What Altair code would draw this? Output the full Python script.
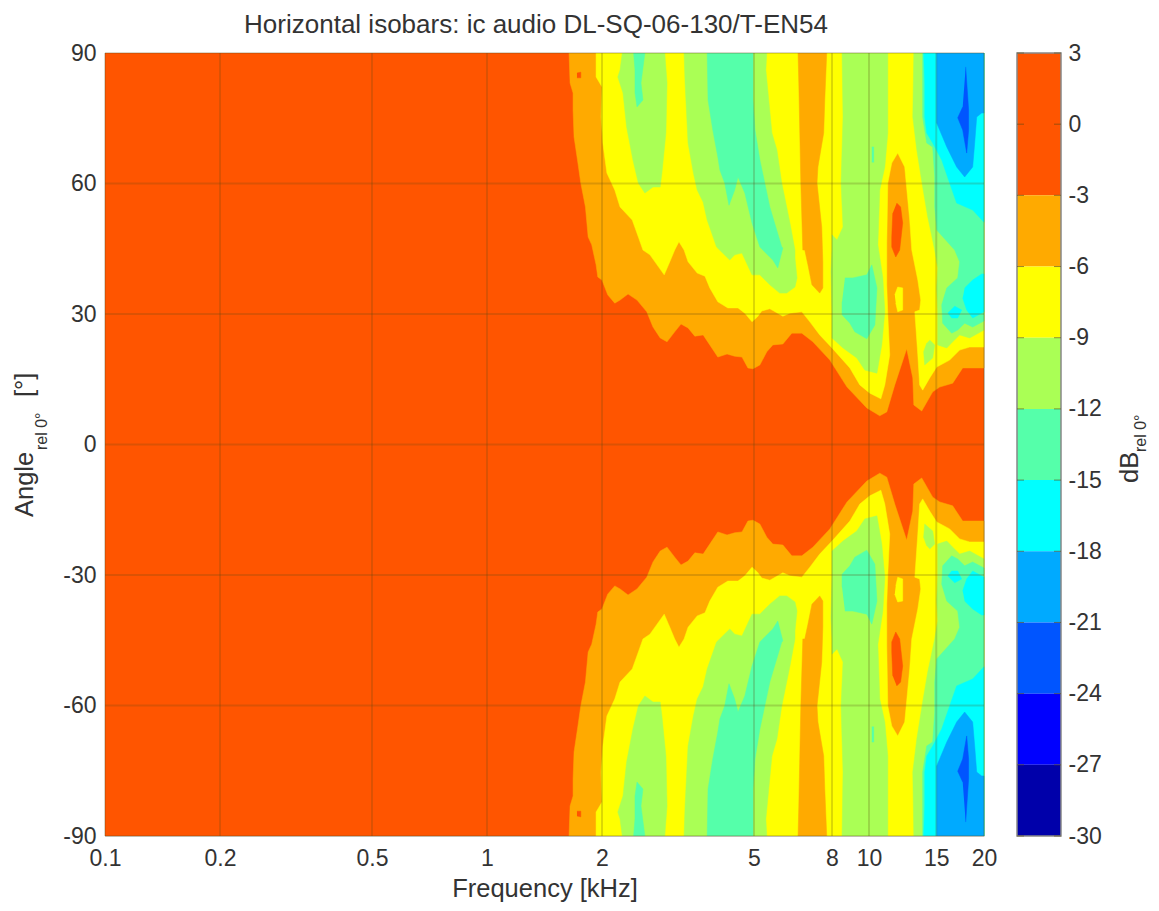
import altair as alt
import pandas as pd

TITLE = "Horizontal isobars: ic audio  DL-SQ-06-130/T-EN54"
X_TICKS = [0.1, 0.2, 0.5, 1, 2, 5, 8, 10, 15, 20]
Y_TICKS = [-90, -60, -30, 0, 30, 60, 90]
LEVELS = [3, 0, -3, -6, -9, -12, -15, -18, -21, -24, -27, -30]
BAND_TOP = [3, -3, -6, -9, -12, -15, -18, -21, -24, -27]
BAND_BOTTOM = [-3, -6, -9, -12, -15, -18, -21, -24, -27, -30]
BAND_COLORS = ["#FF5500", "#FFAA00", "#FFFF00", "#AAFF55", "#55FFAA",
               "#00FFFF", "#00AAFF", "#0055FF", "#0000FF", "#0000AA"]

# Contours of the upper half (kHz, degrees); the measured lower half mirrors them.
AT_3 = [(1.64,90),(1.65,83.1),(1.68,80.8),(1.68,76.9),(1.69,70.7),(1.73,64.7),(1.76,60.1),(1.81,54.6),(1.84,47.7),(1.88,45.9),(1.93,41.3),(1.95,38.5),(2.00,37.8),(2.07,34.4),(2.16,32.5),(2.23,33.2),(2.34,34.6),(2.47,33.2),(2.62,30.5),(2.72,27.0),(2.84,24.5),(2.96,23.6),(3.10,25.9),(3.22,27.7),(3.36,26.8),(3.50,24.9),(3.68,25.2),(3.83,22.9),(4.02,20.1),(4.25,20.8),(4.45,20.3),(4.65,20.1),(4.82,17.6),(4.97,17.4),(5.18,18.3),(5.40,21.3),(5.60,22.9),(5.95,23.1),(6.28,25.6),(6.67,25.6),(7.13,23.6),(7.90,19.4),(8.76,13.2),(9.87,8.4),(10.67,6.6),(11.13,7.5),(11.68,13.7),(12.55,22.0),(13.02,15.3),(13.10,9.1),(13.74,7.7),(14.68,12.1),(15.31,13.2),(16.56,14.1),(17.59,17.6),(20,17.6),(20,90)]
AT_6 = [(1.93,90),(1.93,84.5),(2.00,82.2),(1.99,75.3),(2.01,69.3),(2.06,62.4),(2.16,58.5),(2.23,54.6),(2.40,51.6),(2.49,47.7),(2.56,44.7),(2.67,43.6),(2.91,39.0),(3.01,42.0),(3.10,44.7),(3.18,46.6),(3.28,44.7),(3.36,42.0),(3.55,39.4),(3.72,38.7),(3.83,36.0),(4.02,32.8),(4.27,31.4),(4.54,31.4),(4.73,30.2),(4.94,28.2),(5.10,29.3),(5.24,30.7),(5.50,31.2),(5.95,29.5),(6.21,30.2),(6.67,30.5),(7.00,28.2),(7.43,25.2),(8.00,22.2),(8.91,17.6),(9.46,13.7),(10.05,11.8),(10.74,10.5),(11.00,13.7),(11.33,20.6),(11.20,29.8),(11.13,36.7),(11.13,46.3),(11.20,60.1),(11.47,64.7),(11.89,67.0),(12.40,63.8),(12.78,51.6),(12.94,44.7),(13.42,37.8),(13.66,33.2),(13.57,30.9),(13.18,30.5),(13.42,20.6),(13.57,13.7),(13.82,12.5),(14.42,15.3),(15.04,17.8),(16.26,19.4),(17.27,21.7),(18.34,22.4),(20,22.4),(20,90)]
STRIP_8K = [(6.52,90),(6.55,83.1),(6.59,71.6),(6.63,60.1),(6.71,44.7),(6.79,44.7),(6.92,41.3),(7.09,36.7),(7.43,34.8),(7.57,36.0),(7.57,42.0),(7.52,50.0),(7.31,60.1),(7.35,63.8),(7.61,71.6),(7.66,79.2),(7.75,90)]
RED_DOT = [(1.72,85.4),(1.76,85.6),(1.76,84.3),(1.72,84.3)]
RED_SPOT = [(11.82,55.5),(12.10,54.6),(12.25,50.9),(12.03,44.7),(11.75,43.1),(11.47,45.4),(11.47,47.7),(11.54,53.2)]
YELLOW_SPOT = [(11.68,34.4),(11.89,36.2),(12.25,36.0),(12.25,30.9),(11.89,30.5),(11.75,32.5)]
GREEN_2K = [(2.26,90),(2.23,86.1),(2.20,84.5),(2.27,80.8),(2.32,73.0),(2.41,65.4),(2.49,60.1),(2.59,57.8),(2.72,59.2),(2.84,59.2),(2.87,62.4),(2.94,71.6),(2.96,83.1),(2.92,90)]
TEAL_2K = [(2.42,90),(2.44,86.1),(2.44,80.8),(2.47,77.6),(2.56,79.2),(2.53,83.1),(2.59,90)]
GREEN_4K = [(3.28,90),(3.30,83.1),(3.36,69.3),(3.47,62.4),(3.55,58.5),(3.68,55.7),(3.77,51.6),(3.99,45.4),(4.32,42.4),(4.45,43.6),(4.65,44.0),(4.94,39.0),(5.18,39.0),(5.50,36.7),(5.84,34.8),(6.09,34.8),(6.40,36.2),(6.48,38.3),(6.40,42.9),(6.40,44.7),(6.21,50.9),(5.91,60.1),(5.74,67.7),(5.57,71.6),(5.37,86.1),(5.40,90)]
TEAL_4K = [(3.77,90),(3.79,79.2),(3.90,72.3),(4.02,66.1),(4.07,63.1),(4.19,60.1),(4.30,55.0),(4.45,58.5),(4.54,61.5),(4.73,57.8),(4.94,50.9),(5.18,45.4),(5.60,42.4),(5.77,40.6),(5.95,45.2),(5.91,45.4),(5.50,54.6),(5.18,65.4),(5.03,72.3),(4.97,79.2),(4.97,90)]
GREEN_10K = [(8.50,90),(8.55,75.3),(8.45,60.1),(8.55,50.0),(8.25,47.0),(8.00,48.2),(8.00,44.7),(7.95,39.7),(8.00,30.5),(8.00,24.5),(8.55,22.2),(9.29,19.9),(9.75,17.1),(10.49,16.4),(10.80,22.9),(11.00,30.5),(10.87,38.3),(10.55,45.9),(10.67,58.5),(11.00,63.8),(11.20,71.6),(11.20,90)]
TEAL_10K = [(8.65,38.3),(9.07,38.3),(9.87,39.0),(10.17,41.3),(10.49,36.0),(10.36,27.5),(9.87,24.3),(9.18,25.9),(8.91,27.9),(8.50,29.8),(8.50,32.8)]
TEAL_SLIVER = [(10.17,68.4),(10.29,68.4),(10.29,64.9),(10.17,64.9)]
GREEN_15K = [(13.10,90),(13.02,75.3),(13.34,67.7),(13.82,59.2),(14.25,52.3),(14.86,44.7),(15.13,40.6),(15.04,36.0),(15.13,30.5),(15.13,22.9),(15.98,22.2),(16.56,23.6),(17.27,25.2),(18.34,24.5),(20,26.3),(20,90)]
GREEN_ISLAND = [(14.42,24.0),(14.86,22.9),(14.68,19.9),(13.99,18.3),(13.90,21.3),(14.16,23.3)]
TEAL_15K = [(13.82,90),(13.82,75.3),(14.16,69.3),(14.68,68.4),(14.86,61.5),(14.86,54.6),(15.04,49.3),(16.76,44.7),(17.27,42.0),(17.07,38.3),(15.98,36.0),(15.50,32.1),(15.59,27.9),(16.46,25.6),(17.07,26.3),(17.80,27.9),(18.68,27.0),(20,28.4),(20,90)]
CYAN_15K = [(13.90,90),(13.99,83.1),(13.99,75.3),(14.16,71.6),(14.68,69.3),(15.50,65.4),(16.26,60.1),(16.96,55.5),(18.68,53.9),(20,51.1),(20,90)]
CYAN_BLOB_A = [(17.80,36.0),(18.68,37.8),(19.72,39.2),(20,39.2),(20,30.5),(18.68,29.1),(18.02,30.9),(17.59,33.7)]
CYAN_BLOB_B = [(16.07,30.2),(16.76,31.8),(17.48,30.9),(17.07,29.1),(16.46,29.1)]
BLUE_18K = [(15.04,90),(15.04,73.9),(15.98,68.4),(16.96,63.8),(17.80,61.5),(18.68,63.8),(18.91,69.3),(19.14,75.3),(19.72,76.2),(20,76.2),(20,90)]
DEEP_18K = [(17.91,86.8),(18.23,76.9),(18.23,72.3),(18.02,67.0),(17.59,72.3),(17.07,75.1),(17.59,77.6)]

# Painted in this order, each over the last.
REGIONS = [(1, AT_3), (2, AT_6), (1, STRIP_8K), (0, RED_DOT), (0, RED_SPOT), (2, YELLOW_SPOT),
           (3, GREEN_2K), (4, TEAL_2K), (3, GREEN_4K), (4, TEAL_4K), (3, GREEN_10K),
           (4, TEAL_10K), (4, TEAL_SLIVER), (3, GREEN_15K), (3, GREEN_ISLAND), (4, TEAL_15K),
           (5, CYAN_15K), (5, CYAN_BLOB_A), (5, CYAN_BLOB_B), (6, BLUE_18K), (7, DEEP_18K)]

W, H = 879, 783
CB_X, CB_W = 912, 44
FONT = "Liberation Sans"
TXT = "#333333"
GRID = "#5a4a10"
TICK_SIZE = 23
TITLE_SIZE = 25.5

x_scale = alt.Scale(type="log", domain=[0.1, 20], nice=False)
y_scale = alt.Scale(domain=[-90, 90], nice=False)
x_axis = alt.Axis(values=X_TICKS, format="~g", title="Frequency [kHz]", grid=False,
                  tickSize=0, domain=False, labelFontSize=TICK_SIZE, labelPadding=11,
                  labelFont=FONT, labelColor=TXT, titleFont=FONT, titleFontSize=TITLE_SIZE,
                  titleFontWeight="normal", titleColor=TXT, titlePadding=6, labelFlush=False,
                  labelOverlap=False)
y_axis = alt.Axis(values=Y_TICKS, title=None, grid=False, tickSize=0, domain=False,
                  labelFontSize=TICK_SIZE, labelPadding=9, labelFont=FONT, labelColor=TXT,
                  labelExpr="toString(datum.value)")


def region_chart(band, pts):
    rows = []
    for half, sign in (("upper", 1), ("lower", -1)):
        for i, (f, a) in enumerate(pts):
            rows.append({"f": f, "a": sign * a, "i": i, "half": half})
    return alt.Chart(pd.DataFrame(rows)).mark_line(
        fill=BAND_COLORS[band], stroke=BAND_COLORS[band], strokeWidth=0.5
    ).encode(
        x=alt.X("f:Q", scale=x_scale, axis=x_axis),
        y=alt.Y("a:Q", scale=y_scale, axis=y_axis),
        detail="half:N",
        order=alt.Order("i:Q"),
    )


base = alt.Chart(pd.DataFrame({"x0": [0.1], "x1": [20], "y0": [-90], "y1": [90]})).mark_rect(
    color=BAND_COLORS[0]
).encode(
    x=alt.X("x0:Q", scale=x_scale, axis=x_axis),
    x2="x1:Q",
    y=alt.Y("y0:Q", scale=y_scale, axis=y_axis),
    y2="y1:Q",
)

regions = [region_chart(b, p) for b, p in REGIONS]

xdf = pd.DataFrame({"f": X_TICKS})
ydf = pd.DataFrame({"a": Y_TICKS})
grid_x = alt.Chart(xdf).mark_rule(color=GRID, opacity=0.22, strokeWidth=2).encode(
    x=alt.X("f:Q", scale=x_scale, axis=x_axis))
grid_y = alt.Chart(ydf).mark_rule(color=GRID, opacity=0.22, strokeWidth=2).encode(
    y=alt.Y("a:Q", scale=y_scale, axis=y_axis))


def text(label, x, y, size, angle=0, align="left", baseline="alphabetic"):
    return alt.Chart(pd.DataFrame({"t": [label]})).mark_text(
        font=FONT, fontSize=size, color=TXT, angle=angle, align=align, baseline=baseline
    ).encode(x=alt.value(x), y=alt.value(y), text="t:N")


main = alt.layer(
    base, *regions, grid_x, grid_y,
    text(TITLE, 431, -28, 26, align="center", baseline="middle"),
    text("Angle", -72, 464, TITLE_SIZE, angle=270),
    text("rel 0°", -58, 397, 16, angle=270),
    text("[°]", -72, 344, TITLE_SIZE, angle=270),
)

cb_scale = alt.Scale(domain=[-30, 3], nice=False)
cb_axis = alt.Axis(orient="right", values=LEVELS, title=None, tickSize=0, domain=False,
                   grid=False, labelFontSize=TICK_SIZE, labelPadding=7, labelFont=FONT,
                   labelColor=TXT, labelOverlap=False, offset=77,
                   labelExpr="toString(datum.value)")
bands = pd.DataFrame({"top": BAND_TOP, "bottom": BAND_BOTTOM, "color": BAND_COLORS})
cb_rect = alt.Chart(bands).mark_rect().encode(
    x=alt.value(CB_X), x2=alt.value(CB_X + CB_W),
    y=alt.Y("top:Q", scale=cb_scale, axis=cb_axis),
    y2="bottom:Q",
    fill=alt.Fill("color:N", scale=None),
)
cb_frame = alt.Chart(pd.DataFrame({"top": [LEVELS[0]], "bottom": [LEVELS[-1]]})).mark_rect(
    fillOpacity=0, stroke="#888888", strokeWidth=1.5
).encode(
    x=alt.value(CB_X), x2=alt.value(CB_X + CB_W),
    y=alt.Y("top:Q", scale=cb_scale, axis=cb_axis),
    y2="bottom:Q",
)
ldf = pd.DataFrame({"v": LEVELS})
cb_tick_l = alt.Chart(ldf).mark_rule(color=GRID, opacity=0.6).encode(
    y=alt.Y("v:Q", scale=cb_scale, axis=cb_axis), x=alt.value(CB_X), x2=alt.value(CB_X + 7))
cb_tick_r = alt.Chart(ldf).mark_rule(color=GRID, opacity=0.6).encode(
    y=alt.Y("v:Q", scale=cb_scale, axis=cb_axis), x=alt.value(CB_X + CB_W - 7), x2=alt.value(CB_X + CB_W))

colorbar = alt.layer(
    cb_rect, cb_frame, cb_tick_l, cb_tick_r,
    text("dB", CB_X + 121, 430, TITLE_SIZE, angle=270),
    text("rel 0°", CB_X + 129, 399, 16, angle=270),
)

chart = alt.layer(main, colorbar).resolve_scale(y="independent").properties(
    width=W, height=H,
    padding={"left": 5, "top": 4, "right": 0, "bottom": 1},
).configure_view(stroke="#888888", strokeWidth=1.5).configure(background="white")

chart.save("out.html", embed_options={"renderer": "svg", "actions": False})
